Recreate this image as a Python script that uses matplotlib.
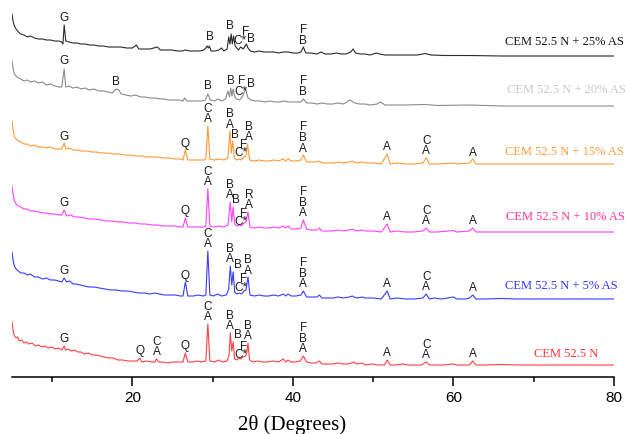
import matplotlib

matplotlib.use("Agg")

import matplotlib.pyplot as plt
import numpy as np

# XRD patterns: (2theta, intensity above the flat tail of each pattern)
XRD_REF = [
    (5.0, 43), (5.15, 34), (5.3, 29), (5.5, 27), (5.7, 28), (5.9, 24), (6.2, 25), (6.5, 22), (6.8, 23),
    (7.1, 21), (7.5, 22), (7.9, 19), (8.3, 20), (8.7, 18), (9.1, 19), (9.5, 17), (9.9, 18), (10.4, 16),
    (10.8, 17), (11.2, 15), (11.5, 19), (11.7, 15), (12.0, 16), (12.4, 14), (12.8, 15), (13.2, 13),
    (13.6, 13), (14.0, 11), (14.5, 12), (15.0, 10), (15.5, 10), (16.0, 9), (16.5, 8), (17.0, 7),
    (17.6, 7), (18.2, 5), (18.8, 5), (19.4, 4), (20.0, 4), (20.6, 4), (20.9, 7), (21.2, 3), (21.8, 4),
    (22.4, 3), (22.8, 3), (23.0, 6), (23.3, 3), (23.8, 3), (24.4, 2), (25.0, 3), (25.6, 3), (26.3, 3),
    (26.6, 12), (26.9, 3), (27.5, 3), (28.1, 4), (28.6, 3), (29.15, 4), (29.4, 41), (29.65, 4),
    (30.2, 3), (30.8, 5), (31.2, 3), (31.8, 4), (32.05, 10), (32.2, 32), (32.38, 14), (32.55, 23),
    (32.75, 6), (33.0, 5), (33.2, 7), (33.5, 6), (33.8, 8), (34.1, 9), (34.25, 12), (34.4, 22),
    (34.6, 5), (35.0, 3), (35.6, 4), (36.2, 3), (36.8, 3), (37.5, 4), (38.2, 3), (38.8, 6), (39.1, 3),
    (39.4, 5), (39.7, 3), (40.3, 3), (40.9, 4), (41.3, 9), (41.7, 3), (42.3, 2), (42.9, 2), (43.3, 4),
    (43.6, 1), (44.3, 1), (45.0, 1), (45.6, 2), (46.2, 1), (46.8, 1), (47.3, 2), (47.6, 3), (47.9, 1),
    (48.6, 2), (49.0, 0), (49.8, 1), (50.6, 0), (51.4, 0), (51.75, 5), (52.1, 0), (52.8, 0), (53.6, 1),
    (54.4, 0), (55.2, 0), (56.0, 0), (56.6, 3), (57.0, 0), (57.8, 0), (58.8, 0), (60.0, 1), (60.4, 0),
    (61.2, 0), (62.0, 0), (62.4, 4), (62.8, 0), (64, 0), (66, 0.5), (68, 0), (70, 0), (73, 0),
    (76, 0), (80, 0),
]
XRD_AS5 = [
    (5.0, 47), (5.15, 38), (5.3, 33), (5.5, 30), (5.8, 28), (6.1, 26), (6.5, 26), (6.9, 24), (7.3, 25),
    (7.8, 22), (8.3, 22), (8.8, 20), (9.3, 21), (9.8, 19), (10.3, 19), (10.8, 18), (11.2, 17),
    (11.5, 21), (11.8, 17), (12.2, 18), (12.6, 15), (13.0, 15), (13.5, 14), (14.0, 13), (14.6, 12),
    (15.2, 12), (15.9, 11), (16.6, 10), (17.3, 9), (18.0, 9), (18.7, 8), (19.4, 8), (20.1, 7),
    (20.8, 6), (21.5, 6), (22.2, 5), (22.8, 6), (23.3, 5), (24.0, 4), (24.6, 4), (25.3, 4), (26.0, 3),
    (26.3, 3), (26.6, 17), (26.9, 3), (27.6, 3), (28.2, 4), (28.8, 3), (29.15, 4), (29.4, 48),
    (29.65, 4), (30.1, 3), (30.6, 5), (31.1, 3), (31.7, 4), (32.0, 10), (32.2, 33), (32.38, 14),
    (32.55, 27), (32.75, 7), (33.0, 5), (33.3, 6), (33.6, 5), (33.9, 8), (34.15, 9), (34.4, 22),
    (34.65, 4), (35.2, 3), (35.8, 4), (36.4, 3), (37.0, 3), (37.6, 4), (38.2, 3), (38.8, 5), (39.1, 3),
    (39.4, 5), (39.8, 3), (40.4, 3), (41.0, 4), (41.3, 8), (41.7, 2), (42.3, 2), (43.0, 2), (43.3, 4),
    (43.6, 1), (44.3, 1), (45.0, 1), (45.6, 2), (46.3, 1), (47.0, 2), (47.4, 3), (47.6, 2), (48.0, 1),
    (48.6, 2), (49.0, 1), (50.0, 1), (51.0, 0), (51.75, 8), (52.1, 0), (53.0, 1), (54.0, 0), (55.0, 0),
    (56.2, 1), (56.6, 5), (57.0, 0), (57.6, 1), (58.5, 0), (60.0, 2), (60.4, 0), (61.5, 0), (62.0, 1),
    (62.4, 4), (62.8, 0), (64, 0), (66, 0.5), (68, 0), (71, 0), (75, 0), (80, 0),
]
XRD_AS10 = [
    (5.0, 46), (5.15, 37), (5.3, 31), (5.5, 28), (5.8, 26), (6.1, 25), (6.5, 23), (6.9, 23), (7.3, 21),
    (7.8, 21), (8.3, 20), (8.8, 19), (9.3, 19), (9.8, 18), (10.3, 18), (10.8, 17), (11.2, 17),
    (11.5, 22), (11.8, 16), (12.3, 17), (12.8, 15), (13.4, 15), (14.0, 14), (14.7, 13), (15.4, 13),
    (16.1, 12), (16.8, 11), (17.5, 11), (18.2, 10), (18.9, 10), (19.6, 9), (20.3, 9), (21.0, 8),
    (21.7, 8), (22.4, 7), (23.1, 7), (23.8, 6), (24.5, 6), (25.2, 6), (25.9, 5), (26.3, 5), (26.6, 14),
    (26.9, 5), (27.6, 5), (28.3, 5), (28.9, 5), (29.15, 6), (29.4, 43), (29.65, 6), (30.2, 5),
    (30.8, 6), (31.4, 5), (31.9, 7), (32.2, 30), (32.38, 10), (32.55, 25), (32.75, 8), (33.0, 6),
    (33.3, 7), (33.6, 6), (33.9, 9), (34.15, 10), (34.4, 20), (34.65, 5), (35.2, 4), (35.8, 5),
    (36.4, 4), (37.0, 4), (37.6, 5), (38.2, 4), (38.8, 6), (39.1, 4), (39.4, 6), (39.8, 3), (40.4, 3),
    (41.0, 4), (41.3, 12), (41.7, 3), (42.3, 2), (43.0, 2), (43.3, 4), (43.6, 1), (44.3, 1), (45.0, 1),
    (45.6, 2), (46.3, 1), (47.0, 2), (47.4, 3), (47.6, 2), (48.0, 1), (48.6, 2), (49.0, 1), (50.0, 1),
    (51.0, 0), (51.75, 8), (52.1, 0), (53.0, 1), (54.0, 0), (55.0, 0), (56.2, 1), (56.6, 4), (57.0, 0),
    (58.0, 0), (60.0, 1.5), (60.4, 0), (62.0, 1), (62.4, 4), (62.8, 0), (65, 0), (68, 0), (72, 0),
    (76, 0), (80, 0),
]
XRD_AS15 = [
    (5.0, 43), (5.15, 33), (5.3, 27), (5.5, 25), (5.8, 23), (6.1, 22), (6.5, 20), (6.9, 20), (7.3, 18),
    (7.8, 19), (8.3, 17), (8.8, 17), (9.3, 16), (9.8, 17), (10.3, 15), (10.8, 15), (11.2, 15),
    (11.5, 21), (11.7, 15), (12.1, 16), (12.6, 14), (13.1, 14), (13.7, 13), (14.3, 13), (14.9, 12),
    (15.5, 12), (16.2, 11), (16.9, 11), (17.6, 10), (18.3, 10), (19.0, 9), (19.7, 9), (20.4, 8),
    (21.1, 8), (21.8, 7), (22.5, 7), (23.2, 7), (23.9, 6), (24.6, 6), (25.3, 5), (26.0, 5), (26.3, 4),
    (26.6, 14), (26.9, 4), (27.6, 4), (28.3, 4), (28.9, 4), (29.15, 5), (29.4, 38), (29.65, 5),
    (30.2, 4), (30.8, 5), (31.4, 4), (31.9, 6), (32.15, 33), (32.32, 11), (32.5, 23), (32.7, 6),
    (33.0, 4), (33.3, 5), (33.6, 4), (33.9, 7), (34.15, 8), (34.35, 20), (34.6, 4), (35.2, 3),
    (35.8, 4), (36.4, 3), (37.0, 3), (37.6, 4), (38.2, 3), (38.8, 5), (39.1, 3), (39.4, 5), (39.8, 3),
    (40.4, 3), (41.0, 4), (41.3, 9), (41.7, 2), (42.3, 2), (43.0, 2), (43.3, 3), (43.6, 1), (44.3, 1),
    (45.0, 1), (45.6, 2), (46.3, 1), (47.0, 2), (47.4, 3), (47.6, 2), (48.0, 1), (48.6, 2), (49.0, 1),
    (50.0, 1), (51.0, 0), (51.75, 10), (52.1, 0), (53.0, 1), (54.0, 0), (55.0, 0), (56.2, 1),
    (56.6, 6), (57.0, 0), (58.0, 0), (60.0, 1), (60.4, 0), (62.0, 1), (62.4, 5), (62.8, 0), (65, 0),
    (68, 0), (72, 0), (76, 0), (80, 0),
]
XRD_AS20 = [
    (5.0, 45), (5.15, 37), (5.3, 32), (5.5, 30), (5.8, 28), (6.1, 27), (6.5, 25), (6.9, 26), (7.3, 24),
    (7.8, 25), (8.3, 23), (8.8, 24), (9.3, 21), (9.8, 22), (10.3, 20), (10.8, 19), (11.2, 19),
    (11.5, 37), (11.7, 19), (12.1, 20), (12.6, 18), (13.1, 19), (13.6, 17), (14.1, 18), (14.6, 16),
    (15.2, 17), (15.8, 15), (16.4, 15), (17.0, 14), (17.5, 13), (17.95, 17), (18.3, 16), (18.6, 12),
    (19.2, 11), (19.8, 10), (20.4, 11), (21.0, 9), (21.6, 9), (22.2, 8), (22.8, 8), (23.4, 7),
    (24.0, 7), (24.6, 6), (25.2, 6), (25.8, 6), (26.3, 5), (26.5, 8), (26.8, 5), (27.4, 5), (28.0, 5),
    (28.6, 5), (29.1, 6), (29.4, 12), (29.7, 6), (30.2, 5), (30.7, 7), (31.1, 5), (31.6, 7),
    (31.9, 15), (32.1, 9), (32.25, 18), (32.4, 10), (32.55, 17), (32.75, 9), (33.0, 7), (33.3, 6),
    (33.6, 8), (33.85, 12), (34.1, 17), (34.4, 8), (34.8, 6), (35.3, 5), (35.9, 5), (36.5, 4),
    (37.1, 5), (37.7, 4), (38.3, 4), (38.9, 5), (39.4, 4), (40.0, 4), (40.6, 4), (41.0, 4), (41.3, 7),
    (41.7, 3), (42.3, 3), (43.0, 2), (43.6, 3), (44.3, 2), (45.0, 2), (45.6, 3), (46.3, 2), (47.1, 6),
    (47.7, 3), (48.3, 2), (49.0, 2), (49.6, 1), (50.5, 2), (50.9, 4), (51.5, 1), (52.5, 1), (54, 1),
    (56.5, 1.5), (58, 0.5), (62, 1), (66, 0), (70, 0), (75, 0), (80, 0),
]
XRD_AS25 = [
    (5.0, 42), (5.15, 34), (5.3, 30), (5.5, 27), (5.8, 24), (6.1, 22), (6.5, 21), (6.9, 19), (7.3, 20),
    (7.8, 18), (8.3, 17), (8.8, 17), (9.3, 16), (9.8, 16), (10.3, 15), (10.8, 15), (11.2, 14),
    (11.35, 12), (11.5, 31), (11.7, 15), (12.1, 14), (12.6, 13), (13.1, 13), (13.6, 12), (14.1, 12),
    (14.6, 11), (15.2, 11), (15.8, 10), (16.4, 10), (17.0, 9), (17.6, 9), (18.5, 9), (19.3, 8),
    (20.0, 8), (20.5, 11), (20.8, 7), (21.5, 7), (22.2, 7), (23.1, 9), (23.5, 6), (24.2, 6), (24.9, 6),
    (25.6, 5), (26.2, 5), (26.6, 6), (27.2, 5), (27.8, 5), (28.4, 5), (28.9, 6), (29.15, 8), (29.3, 10),
    (29.45, 8), (29.6, 10), (29.8, 5), (30.3, 5), (30.8, 6), (31.1, 8), (31.4, 5), (31.8, 7),
    (32.0, 19), (32.15, 12), (32.3, 22), (32.45, 12), (32.6, 20), (32.8, 10), (33.0, 8), (33.2, 6),
    (33.5, 9), (33.8, 7), (34.05, 10), (34.2, 12), (34.4, 8), (34.7, 5), (35.2, 4), (35.8, 5),
    (36.4, 4), (37.0, 4), (37.6, 4), (38.2, 3), (38.8, 4), (39.4, 4), (40.0, 3), (40.6, 3), (41.0, 4),
    (41.3, 9), (41.6, 3), (42.2, 3), (43.0, 2), (43.5, 4), (44.0, 2), (44.8, 2), (45.4, 3), (46.0, 2),
    (46.6, 2), (47.2, 4), (47.5, 7), (47.8, 3), (48.4, 2), (49.0, 2), (49.6, 1), (50.4, 3), (50.8, 2),
    (51.5, 1), (52.5, 1), (54, 1), (55.5, 1), (56.5, 2.5), (57.2, 1), (59, 0.5), (62, 0.5), (66, 0),
    (70, 0), (75, 0), (80, 0),
]

# phase labels: (2theta of text, text, 2theta of the peak it belongs to, extra lift)
PEAKS_REF = [
    (11.5, "G", 11.5, 0), (20.9, "Q", 20.9, 0), (23.0, "C\nA", 23.0, 0), (26.6, "Q", 26.6, 0),
    (29.4, "C\nA", 29.4, 0), (32.2, "B\nA", 32.2, 0), (33.1, "B", 32.55, 0), (33.55, "C*", 33.2, -3.5),
    (33.9, "F", 34.25, -1.0), (34.45, "B\nA", 34.4, 0), (41.3, "F\nB\nA", 41.3, 0),
    (51.75, "A", 51.75, 0), (56.6, "C\nA", 56.6, 0), (62.4, "A", 62.4, 0),
]
PEAKS_AS5 = [
    (11.5, "G", 11.5, 0), (26.6, "Q", 26.6, 0), (29.4, "C\nA", 29.4, 0), (32.2, "B\nA", 32.2, 0),
    (33.1, "B", 32.55, 0), (33.55, "C*", 33.3, -1.5), (33.9, "F", 34.15, 4.0), (34.45, "B\nA", 34.4, 0),
    (41.3, "F\nB\nA", 41.3, 0), (51.75, "A", 51.75, 0), (56.6, "C\nA", 56.6, 0), (62.4, "A", 62.4, 0),
]
PEAKS_AS10 = [
    (11.5, "G", 11.5, 0), (26.6, "Q", 26.6, 0), (29.4, "C\nA", 29.4, 0), (32.2, "B\nA", 32.2, 0),
    (32.95, "B", 32.55, 0), (33.5, "C*", 33.3, -3.5), (33.8, "F", 34.15, 1.0), (34.55, "R\nA", 34.4, 0),
    (41.3, "F\nB\nA", 41.3, 0), (51.75, "A", 51.75, 0), (56.6, "C\nA", 56.6, 0), (62.4, "A", 62.4, 0),
]
PEAKS_AS15 = [
    (11.5, "G", 11.5, 0), (26.6, "Q", 26.6, 0), (29.4, "C\nA", 29.4, 0), (32.15, "B\nA", 32.15, 0),
    (32.8, "B", 32.5, 0), (33.5, "C*", 33.3, -0.5), (33.9, "F", 34.15, 5.0), (34.5, "B\nA", 34.35, 0),
    (41.3, "F\nB\nA", 41.3, 0), (51.75, "A", 51.75, 0), (56.6, "C\nA", 56.6, 0), (62.4, "A", 62.4, 0),
]
PEAKS_AS20 = [
    (11.5, "G", 11.5, 1.5), (18.0, "B", 17.95, 0.5), (29.4, "B", 29.4, 1.5), (32.25, "B", 32.25, 0),
    (33.5, "C*", 33.3, 1.5), (33.65, "F", 33.6, 10.5), (34.75, "B", 34.1, -1.5), (41.3, "F\nB", 41.3, 0.5),
]
PEAKS_AS25 = [
    (11.5, "G", 11.5, 0.5), (29.6, "B", 29.3, 2.5), (32.2, "B", 32.3, 1.5), (33.45, "C*", 33.5, -0.5),
    (34.1, "F", 34.2, 5.5), (34.75, "B", 34.2, -1.5), (41.3, "F\nB", 41.3, -0.5),
]

SAMPLE_NAMES = [
    "CEM 52.5 N", "CEM 52.5 N + 5% AS", "CEM 52.5 N + 10% AS",
    "CEM 52.5 N + 15% AS", "CEM 52.5 N + 20% AS", "CEM 52.5 N + 25% AS",
]

# styling / stacking
OFFSETS = [12, 78, 145, 213, 271, 321]
LINE_COLORS = ["#ff4040", "#3a3aff", "#ff40ff", "#ff9933", "#8a8a8a", "#2a2a2a"]
NAME_COLORS = ["#ff3333", "#3333ff", "#ff3399", "#ff9933", "#c8c8c8", "#111111"]
NAME_X = [70.0, 66.4, 66.5, 66.4, 66.7, 66.4]
NAME_DY = [12, 14, 16, 13, 17, 15]


def peak_top(tt, inten, x):
    near = np.abs(tt - x) <= 0.12
    if near.any():
        return inten[near].max()
    return np.interp(x, tt, inten)


def main():
    series = [XRD_REF, XRD_AS5, XRD_AS10, XRD_AS15, XRD_AS20, XRD_AS25]
    peak_sets = [PEAKS_REF, PEAKS_AS5, PEAKS_AS10, PEAKS_AS15, PEAKS_AS20, PEAKS_AS25]

    fig = plt.figure(figsize=(6.25, 4.35), dpi=100)
    ax = fig.add_axes([12 / 625, 57 / 435, 602 / 625, 378 / 435])

    for i, data in enumerate(series):
        tt, inten = np.array(data, dtype=float).T
        off = OFFSETS[i]
        ax.plot(tt, inten + off, color=LINE_COLORS[i], linewidth=0.8)
        for x_txt, label, x_pk, dy in peak_sets[i]:
            y = peak_top(tt, inten, x_pk) + off + 1.5 + dy
            ax.text(x_txt, y, label, ha="center", va="bottom", fontsize=8.5,
                    family="Liberation Sans", color="#1a1a1a", linespacing=0.85,
                    multialignment="center")
        ax.text(NAME_X[i], off + NAME_DY[i], SAMPLE_NAMES[i], ha="left", va="center",
                fontsize=9, family="Liberation Serif", color=NAME_COLORS[i])

    ax.set_xlim(5, 80)
    ax.set_ylim(0, 378)
    for side in ["left", "right", "top"]:
        ax.spines[side].set_visible(False)
    ax.spines["bottom"].set_linewidth(1.1)
    ax.set_yticks([])
    ax.set_xticks([20, 40, 60, 80])
    ax.set_xticks([10, 30, 50, 70], minor=True)
    ax.tick_params(axis="x", which="major", direction="out", length=6.5, width=1.1, pad=3,
                   labelsize=11)
    ax.tick_params(axis="x", which="minor", direction="out", length=3.6, width=1.1)
    for lbl in ax.get_xticklabels():
        lbl.set_family("Liberation Sans")
    ax.set_xlabel("2θ (Degrees)", family="Liberation Serif", fontsize=15)
    ax.xaxis.set_label_coords(0.465, -0.098)

    fig.savefig("out.png", dpi=100)
    plt.close(fig)


if __name__ == "__main__":
    main()
